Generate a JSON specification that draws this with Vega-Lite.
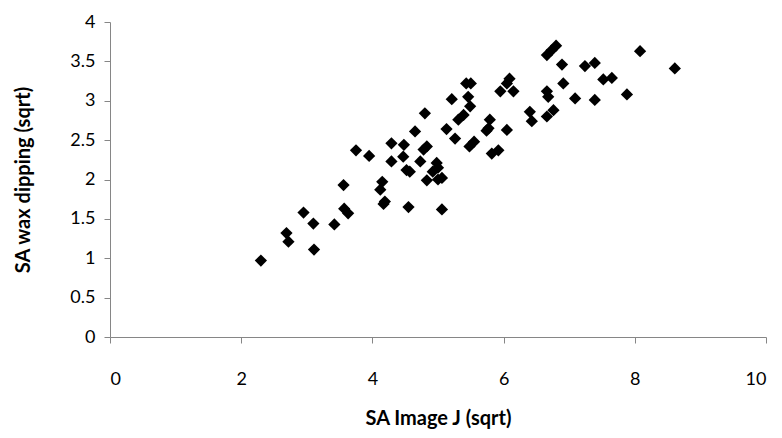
{
  "$schema": "https://vega.github.io/schema/vega-lite/v6.json",
  "autosize": "none",
  "width": 656,
  "height": 315,
  "padding": {"left": 110, "top": 22, "right": 16, "bottom": 101},
  "background": "white",
  "config": {
    "view": {"stroke": null},
    "font": "Lato",
    "axis": {
      "grid": false,
      "domainColor": "#868686",
      "tickColor": "#868686",
      "tickSize": 6,
      "labelFont": "Lato",
      "labelFontSize": 18,
      "labelColor": "#000000",
      "titleFont": "Lato",
      "titleFontSize": 20,
      "titleFontWeight": "bold",
      "titleColor": "#000000"
    }
  },
  "data": {
    "values": [
      {"x": 2.30, "y": 0.97}, {"x": 2.69, "y": 1.32}, {"x": 2.72, "y": 1.21}, {"x": 2.95, "y": 1.58},
      {"x": 3.10, "y": 1.44}, {"x": 3.11, "y": 1.11}, {"x": 3.42, "y": 1.43}, {"x": 3.56, "y": 1.93},
      {"x": 3.57, "y": 1.63}, {"x": 3.63, "y": 1.57}, {"x": 3.75, "y": 2.37}, {"x": 3.95, "y": 2.30},
      {"x": 4.12, "y": 1.87}, {"x": 4.15, "y": 1.97}, {"x": 4.19, "y": 1.72}, {"x": 4.17, "y": 1.69},
      {"x": 4.29, "y": 2.46}, {"x": 4.48, "y": 2.44}, {"x": 4.29, "y": 2.23}, {"x": 4.47, "y": 2.29},
      {"x": 4.52, "y": 2.12}, {"x": 4.57, "y": 2.10}, {"x": 4.55, "y": 1.65}, {"x": 4.65, "y": 2.61},
      {"x": 4.73, "y": 2.23}, {"x": 4.83, "y": 2.42}, {"x": 4.78, "y": 2.38}, {"x": 4.80, "y": 2.84},
      {"x": 4.83, "y": 1.99}, {"x": 4.92, "y": 2.10}, {"x": 4.98, "y": 2.21}, {"x": 5.00, "y": 2.15},
      {"x": 5.06, "y": 2.02}, {"x": 5.00, "y": 2.00}, {"x": 5.06, "y": 1.62}, {"x": 5.13, "y": 2.64},
      {"x": 5.21, "y": 3.02}, {"x": 5.26, "y": 2.52}, {"x": 5.31, "y": 2.76}, {"x": 5.39, "y": 2.82},
      {"x": 5.49, "y": 2.93}, {"x": 5.46, "y": 3.05}, {"x": 5.43, "y": 3.22}, {"x": 5.50, "y": 3.22},
      {"x": 5.48, "y": 2.42}, {"x": 5.55, "y": 2.48}, {"x": 5.74, "y": 2.62}, {"x": 5.77, "y": 2.65},
      {"x": 5.79, "y": 2.76}, {"x": 5.82, "y": 2.33}, {"x": 5.92, "y": 2.37}, {"x": 5.95, "y": 3.12},
      {"x": 6.05, "y": 3.22}, {"x": 6.09, "y": 3.28}, {"x": 6.05, "y": 2.63}, {"x": 6.15, "y": 3.12},
      {"x": 6.40, "y": 2.86}, {"x": 6.43, "y": 2.74}, {"x": 6.66, "y": 3.12}, {"x": 6.68, "y": 3.05},
      {"x": 6.66, "y": 2.80}, {"x": 6.76, "y": 2.88}, {"x": 6.66, "y": 3.58}, {"x": 6.73, "y": 3.64},
      {"x": 6.80, "y": 3.70}, {"x": 6.89, "y": 3.46}, {"x": 6.91, "y": 3.22}, {"x": 7.09, "y": 3.03},
      {"x": 7.24, "y": 3.44}, {"x": 7.39, "y": 3.48}, {"x": 7.39, "y": 3.01}, {"x": 7.52, "y": 3.27},
      {"x": 7.65, "y": 3.29}, {"x": 7.88, "y": 3.08}, {"x": 8.08, "y": 3.63}, {"x": 8.61, "y": 3.41}
    ]
  },
  "mark": {"type": "point", "shape": "diamond", "filled": true, "color": "#000000", "opacity": 1, "size": 150},
  "encoding": {
    "x": {
      "field": "x", "type": "quantitative",
      "scale": {"domain": [0, 10], "nice": false, "zero": true},
      "axis": {"values": [0, 2, 4, 6, 8, 10], "title": "SA Image J (sqrt)", "labelPadding": 27, "titlePadding": 20, "format": "d"}
    },
    "y": {
      "field": "y", "type": "quantitative",
      "scale": {"domain": [0, 4], "nice": false},
      "axis": {"values": [0, 0.5, 1, 1.5, 2, 2.5, 3, 3.5, 4], "title": "SA wax dipping (sqrt)", "labelPadding": 9, "titlePadding": 36, "format": ".1~f"}
    }
  }
}
